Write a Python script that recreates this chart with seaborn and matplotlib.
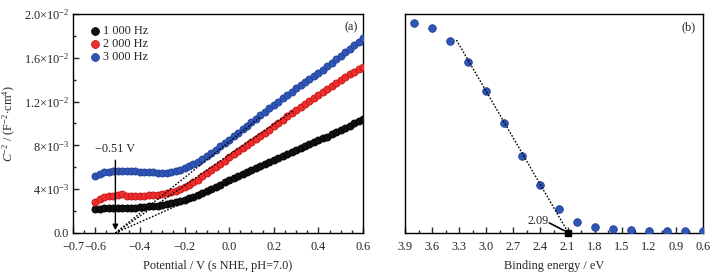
import numpy as np
import pandas as pd
import matplotlib
matplotlib.use("Agg")
import matplotlib.pyplot as plt
import seaborn as sns

# ---------------- data ----------------
potential = [-0.60, -0.58, -0.56, -0.54, -0.52, -0.50, -0.48, -0.46, -0.44, -0.42,
             -0.40, -0.38, -0.36, -0.34, -0.32, -0.30, -0.28, -0.26, -0.24, -0.22,
             -0.20, -0.18, -0.16, -0.14, -0.12, -0.10, -0.08, -0.06, -0.04, -0.02,
             0.00, 0.02, 0.04, 0.06, 0.08, 0.10, 0.12, 0.14, 0.16, 0.18,
             0.20, 0.22, 0.24, 0.26, 0.28, 0.30, 0.32, 0.34, 0.36, 0.38,
             0.40, 0.42, 0.44, 0.46, 0.48, 0.50, 0.52, 0.54, 0.56, 0.58, 0.60]

c2_1000 = [2.15, 2.22, 2.25, 2.25, 2.25, 2.25, 2.26, 2.28, 2.30, 2.32,
           2.35, 2.38, 2.42, 2.46, 2.50, 2.55, 2.62, 2.70, 2.80, 2.92,
           3.05, 3.18, 3.32, 3.48, 3.66, 3.85, 4.03, 4.21, 4.40, 4.62,
           4.85, 5.03, 5.21, 5.39, 5.57, 5.75, 5.93, 6.11, 6.29, 6.47,
           6.65, 6.83, 7.01, 7.19, 7.37, 7.55, 7.73, 7.91, 8.09, 8.27,
           8.45, 8.63, 8.81, 9.00, 9.20, 9.40, 9.60, 9.80, 10.00, 10.22, 10.45]

c2_2000 = [2.80, 3.15, 3.30, 3.38, 3.42, 3.45, 3.58, 3.42, 3.40, 3.40,
           3.40, 3.42, 3.44, 3.46, 3.50, 3.55, 3.62, 3.72, 3.85, 4.02,
           4.20, 4.40, 4.62, 4.88, 5.18, 5.50, 5.78, 6.06, 6.34, 6.62,
           6.90, 7.18, 7.46, 7.74, 8.02, 8.30, 8.58, 8.86, 9.14, 9.44,
           9.75, 10.05, 10.35, 10.64, 10.92, 11.20, 11.48, 11.76, 12.04, 12.32,
           12.60, 12.88, 13.16, 13.44, 13.72, 14.00, 14.24, 14.48, 14.72, 14.96, 15.20]

c2_3000 = [5.20, 5.42, 5.55, 5.60, 5.63, 5.65, 5.66, 5.66, 5.65, 5.63,
           5.60, 5.58, 5.55, 5.53, 5.51, 5.50, 5.52, 5.57, 5.65, 5.76,
           5.90, 6.08, 6.28, 6.52, 6.76, 7.00, 7.30, 7.60, 7.90, 8.20,
           8.50, 8.82, 9.14, 9.46, 9.78, 10.10, 10.42, 10.74, 11.06, 11.38,
           11.70, 12.00, 12.30, 12.60, 12.90, 13.20, 13.48, 13.76, 14.04, 14.32,
           14.60, 14.92, 15.24, 15.56, 15.88, 16.20, 16.52, 16.84, 17.16, 17.48, 17.80]

freq_labels = ["1 000 Hz", "2 000 Hz", "3 000 Hz"]

# tangent (dotted) lines in panel a: start at intercept, end points per series
intercept_a = -0.51
fit_end_x = [0.00, 0.29, 0.14]
fit_end_y = [4.6, 11.2, 10.6]   # x1e-3

# panel b
binding = [3.8, 3.6, 3.4, 3.2, 3.0, 2.8, 2.6, 2.4, 2.2, 2.0,
           1.8, 1.6, 1.4, 1.2, 1.0, 0.8, 0.6]
intensity = [0.958, 0.936, 0.875, 0.780, 0.648, 0.502, 0.353, 0.218, 0.111, 0.049,
             0.026, 0.018, 0.012, 0.009, 0.008, 0.008, 0.007]
fit_b_x = [3.33, 2.09]
fit_b_y = [0.881, 0.0]
edge_b = 2.09

# ---------------- style ----------------
sns.set_theme(style="ticks")
plt.rcParams['font.family'] = ['Liberation Serif', 'DejaVu Serif']
plt.rcParams['mathtext.fontset'] = 'custom'
plt.rcParams['mathtext.rm'] = 'Liberation Serif'
plt.rcParams['mathtext.it'] = 'Liberation Serif:italic'
plt.rcParams['mathtext.bf'] = 'Liberation Serif:bold'
plt.rcParams['axes.linewidth'] = 1.0
plt.rcParams['xtick.direction'] = 'in'
plt.rcParams['ytick.direction'] = 'in'

colors = ["#111111", "#ee2d2d", "#2f56b6"]
edgec = ["#000000", "#c41616", "#1f3f94"]
FS = 8.8

fig = plt.figure(figsize=(7.22, 2.79), dpi=100)
ax1 = fig.add_axes([0.1011, 0.1649, 0.4017, 0.7849])
ax2 = fig.add_axes([0.5609, 0.1649, 0.4128, 0.7849])

# ---------------- panel a ----------------
rows = []
for lab, vals in zip(freq_labels, [c2_1000, c2_2000, c2_3000]):
    for x, v in zip(potential, vals):
        rows.append((x, v * 1e-3, lab))
df = pd.DataFrame(rows, columns=["V", "C2", "freq"])

for lab, col, ec in zip(freq_labels, colors, edgec):
    sub = df[df.freq == lab]
    sns.scatterplot(data=sub, x="V", y="C2", ax=ax1, color=col, edgecolor=ec,
                    linewidth=0.6, s=26, marker="o", label=lab, zorder=3)

for ex, ey in zip(fit_end_x, fit_end_y):
    ax1.plot([intercept_a, ex], [0, ey * 1e-3], ls=(0, (1.2, 1.2)), color="black",
             lw=1.0, zorder=4)

ax1.annotate("", xy=(intercept_a, 0.0), xytext=(intercept_a, 6.9e-3),
             arrowprops=dict(arrowstyle="-|>", color="black", lw=1.0,
                             mutation_scale=8), zorder=5)
ax1.text(intercept_a, 7.7e-3, "\u22120.51 V", ha="center", va="center", fontsize=FS)
ax1.text(0.545, 1.88e-2, "(a)", ha="center", va="center", fontsize=FS)

ax1.set_xlim(-0.7, 0.6)
ax1.set_ylim(0, 0.02)
xt = [-0.7, -0.6, -0.4, -0.2, 0.0, 0.2, 0.4, 0.6]
ax1.set_xticks(xt)
ax1.set_xticklabels([("\u2212%.1f" % abs(t)) if t < 0 else "%.1f" % t for t in xt])
ax1.set_xticks(np.arange(-0.7, 0.61, 0.05), minor=True)
yt = [0, 0.004, 0.008, 0.012, 0.016, 0.020]
ax1.set_yticks(yt)
ax1.set_yticklabels(["0.0", r"$4{\times}10^{-3}$", r"$8{\times}10^{-3}$",
                     r"$1.2{\times}10^{-2}$", r"$1.6{\times}10^{-2}$",
                     r"$2.0{\times}10^{-2}$"])
ax1.set_yticks(np.arange(0, 0.0201, 0.002), minor=True)
ax1.tick_params(axis="x", which="major", length=4, width=1.0, labelsize=FS,
                top=False, pad=6)
ax1.tick_params(axis="y", which="major", length=4, width=1.0, labelsize=FS,
                right=False, pad=3)
ax1.tick_params(axis="both", which="minor", length=2.5, width=1.0,
                top=False, right=False)
ax1.set_xlabel("Potential / V (s NHE, pH=7.0)", fontsize=FS, labelpad=5)
ax1.set_ylabel(r"$C^{-2}$ / (F$^{-2}$$\cdot$cm$^{4}$)", fontsize=FS, labelpad=2)
ax1.yaxis.set_label_coords(-0.19, 0.5)
leg = ax1.legend(loc="upper left", frameon=False, fontsize=FS, handletextpad=0.05,
                 borderaxespad=0.3, labelspacing=0.1, markerscale=1.1,
                 handlelength=1.2, bbox_to_anchor=(0.02, 0.99))
for sp in ax1.spines.values():
    sp.set_visible(True)
    sp.set_color("black")

# ---------------- panel b ----------------
dfb = pd.DataFrame({"E": binding, "I": intensity})
sns.scatterplot(data=dfb, x="E", y="I", ax=ax2, color="#2f56b6", edgecolor="#1f3f94",
                linewidth=0.6, s=30, zorder=3)
ax2.plot(fit_b_x, fit_b_y, ls=(0, (1.2, 1.2)), color="black", lw=1.0, zorder=4)
ax2.plot([edge_b], [0.0], marker="s", color="black", ms=5, zorder=5, clip_on=False)
ax2.annotate("", xy=(edge_b + 0.02, 0.005), xytext=(2.33, 0.052),
             arrowprops=dict(arrowstyle="-", color="black", lw=1.2))
ax2.text(2.43, 0.055, "2.09", ha="center", va="center", fontsize=FS)
ax2.text(0.76, 0.94, "(b)", ha="center", va="center", fontsize=FS)

ax2.set_xlim(3.9, 0.6)
ax2.set_ylim(0, 1.0)
xtb = [3.9, 3.6, 3.3, 3.0, 2.7, 2.4, 2.1, 1.8, 1.5, 1.2, 0.9, 0.6]
ax2.set_xticks(xtb)
ax2.set_xticklabels(["%.1f" % t for t in xtb])
ax2.set_xticks(np.arange(0.6, 3.91, 0.15), minor=True)
ax2.set_yticks([])
ax2.tick_params(axis="x", which="major", length=4, width=1.0, labelsize=FS,
                top=False, pad=6)
ax2.tick_params(axis="x", which="minor", length=2.5, width=1.0, top=False)
ax2.set_xlabel("Binding energy / eV", fontsize=FS, labelpad=5)
ax2.set_ylabel("")
for sp in ax2.spines.values():
    sp.set_visible(True)
    sp.set_color("black")

fig.savefig("out.png", dpi=100)
